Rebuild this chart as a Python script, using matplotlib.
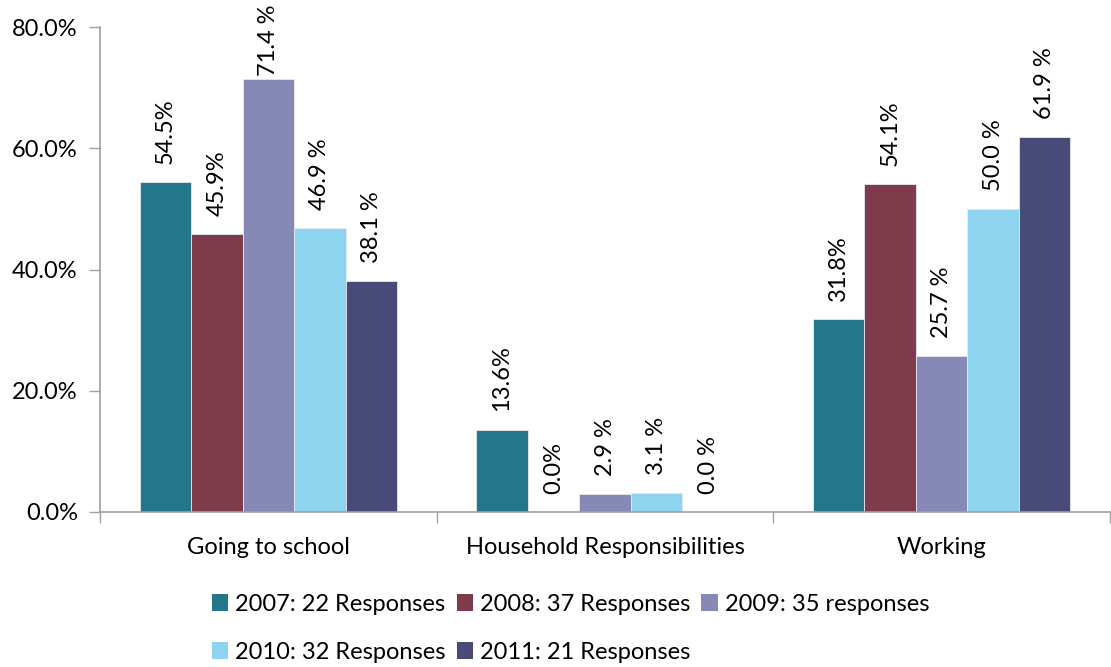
import numpy as np
import matplotlib
matplotlib.use("Agg")
import matplotlib.pyplot as plt
from matplotlib.ticker import FuncFormatter

plt.rcParams['font.family'] = ['Lato', 'DejaVu Sans']

categories = ["Going to school", "Household Responsibilities", "Working"]
series_names = ["2007: 22 Responses", "2008: 37 Responses", "2009: 35 responses",
                "2010: 32 Responses", "2011: 21 Responses"]
values = [
    [54.5, 13.6, 31.8],   # 2007
    [45.9, 0.0, 54.1],    # 2008
    [71.4, 2.9, 25.7],    # 2009
    [46.9, 3.1, 50.0],    # 2010
    [38.1, 0.0, 61.9],    # 2011
]
label_suffix = ["%", "%", " %", " %", " %"]
colors = ["#22788A", "#7E3B4B", "#8689B6", "#8ED4EF", "#484A78"]
y_ticks = [0, 20, 40, 60, 80]

FS = 17

fig = plt.figure(figsize=(11.11, 6.67), dpi=100)
ax = fig.add_axes([100 / 1111, (667 - 512) / 667, 1010 / 1111, (512 - 27) / 667])

x = np.arange(len(categories))
n = len(series_names)
width = 0.153
handles = []
labels = []
for i, (name, vals) in enumerate(zip(series_names, values)):
    pos = x + (i - (n - 1) / 2) * width
    bars = ax.bar(pos, vals, width, color=colors[i], edgecolor="#E8E8F0",
                  linewidth=0.6, label=name)
    handles.append(bars)
    for xp, v in zip(pos, vals):
        t = ax.annotate(f"{v:.1f}{label_suffix[i]}", (xp, v), xytext=(0, 13),
                        textcoords="offset points", rotation=90,
                        ha="center", va="bottom", fontsize=FS, color="black")
        labels.append(t)

ax.set_xlim(-0.5, len(categories) - 0.5)
ax.set_ylim(0, 80)
ax.set_yticks(y_ticks)
ax.yaxis.set_major_formatter(FuncFormatter(lambda v, p: f"{v:.1f}%"))
ax.set_xticks(x)
ax.set_xticklabels(categories)
ax.set_xticks(np.arange(-0.5, len(categories)), minor=True)
ax.tick_params(axis="x", which="major", length=0, pad=18, labelsize=FS)
ax.tick_params(axis="x", which="minor", length=8, color="#A0A0A0", width=1)
ax.tick_params(axis="y", length=8, color="#A0A0A0", width=1, pad=8, labelsize=FS)

for s in ["top", "right"]:
    ax.spines[s].set_visible(False)
for s in ["left", "bottom"]:
    ax.spines[s].set_color("#A0A0A0")
    ax.spines[s].set_linewidth(1.2)

order = [0, 3, 1, 4, 2]
leg = fig.legend([handles[k] for k in order], [series_names[k] for k in order],
                 ncol=3, loc="upper left", bbox_to_anchor=(200 / 1111, 1 - 582 / 667),
                 frameon=False, fontsize=FS, handlelength=0.7, handleheight=0.7,
                 handletextpad=0.3, columnspacing=0.45, labelspacing=1.15,
                 borderpad=0)
for h in leg.legend_handles:
    h.set_edgecolor("none")

# Pull down any value label that would run past the top of the figure
fig.canvas.draw()
renderer = fig.canvas.get_renderer()
fig_h_px = fig.bbox.height
for t in labels:
    bb = t.get_window_extent(renderer)
    overflow = bb.y1 - (fig_h_px - 4)
    if overflow > 0:
        ox, oy = t.xyann
        t.xyann = (ox, oy - overflow * 72 / fig.dpi)

fig.savefig("out.png", dpi=100)
